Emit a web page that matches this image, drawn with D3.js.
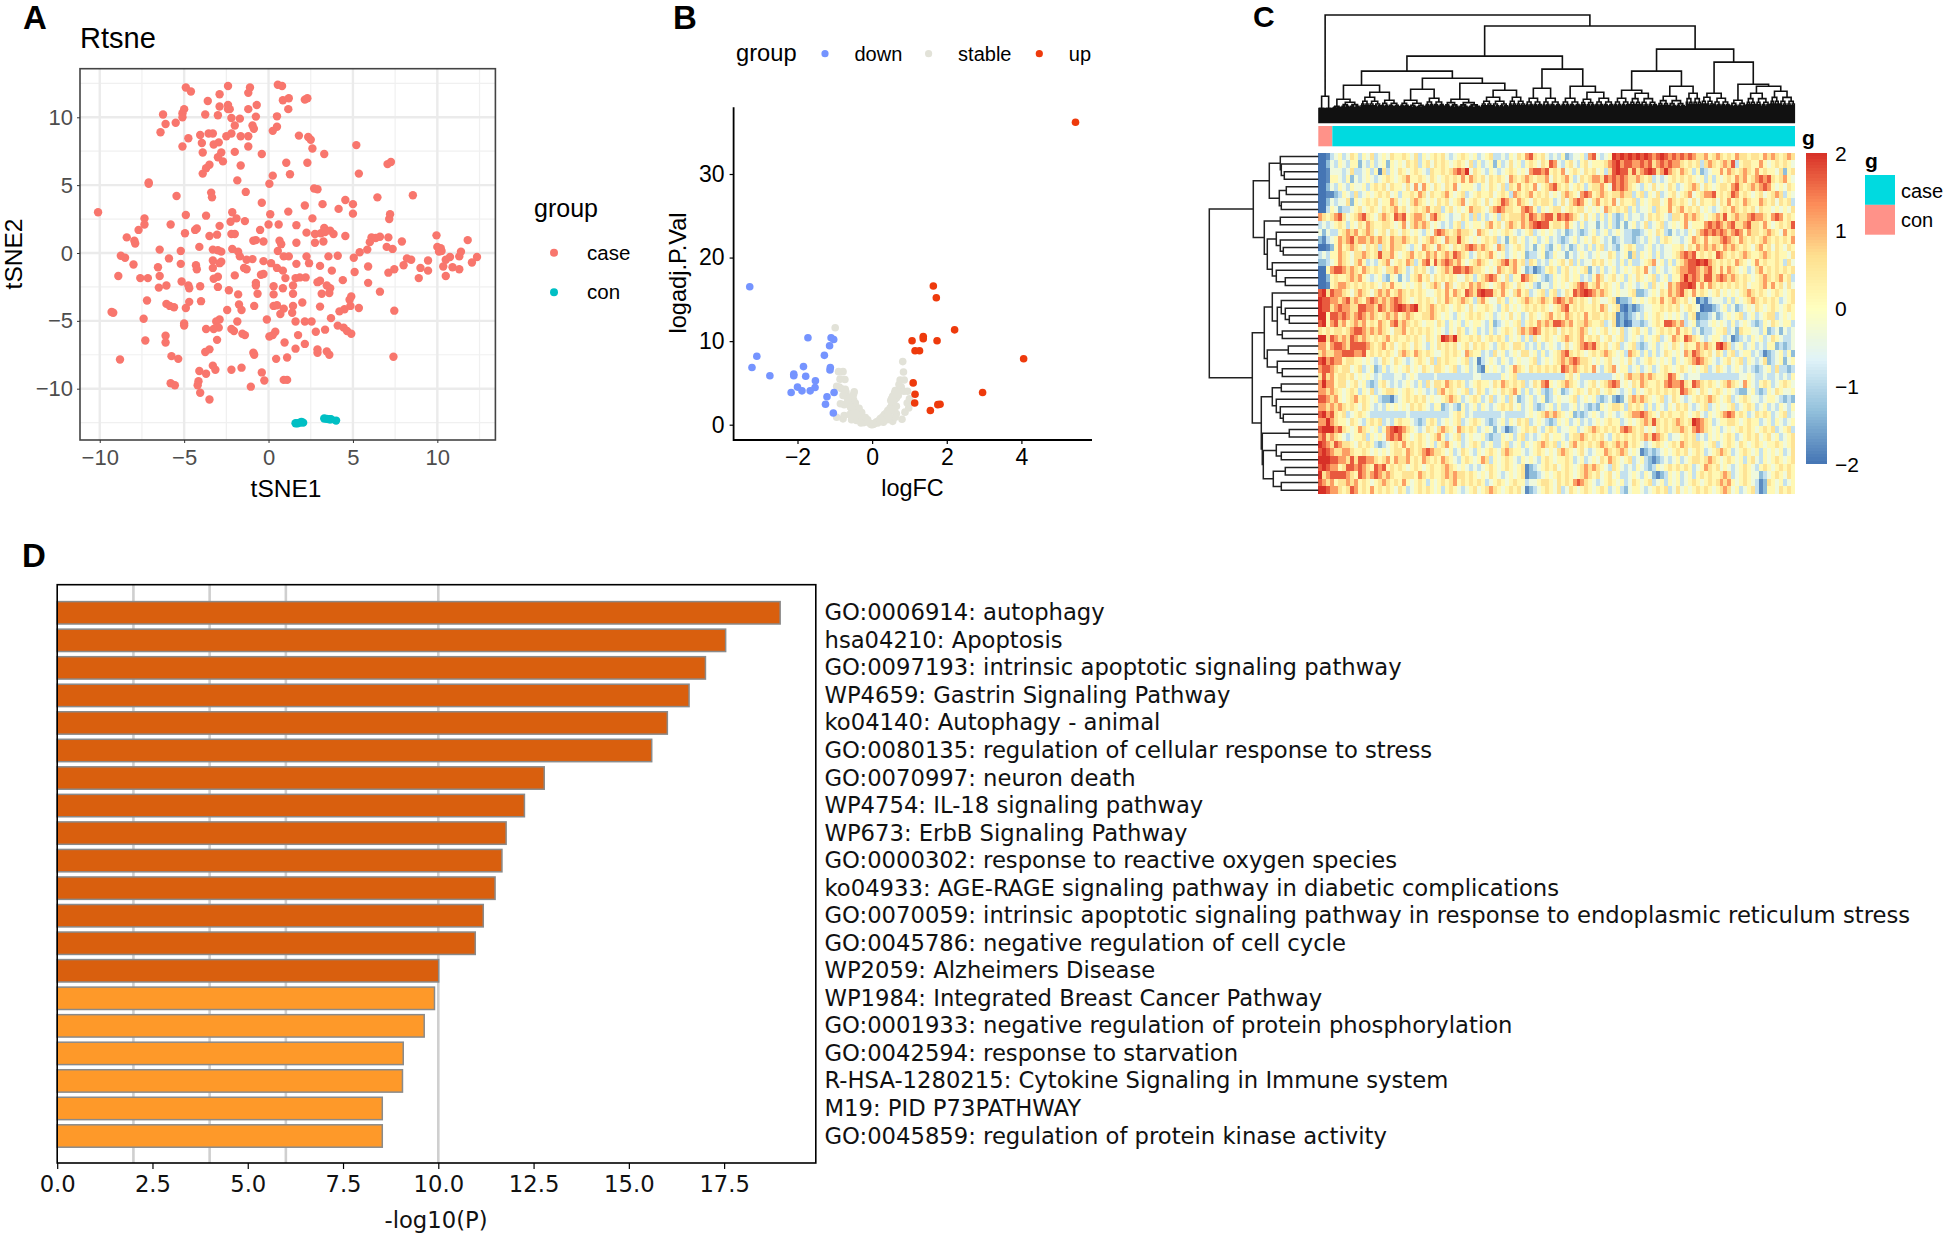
<!DOCTYPE html>
<html><head><meta charset="utf-8">
<style>html,body{margin:0;padding:0;background:#fff;overflow:hidden}svg{display:block}text{font-family:"Liberation Sans",Arial,sans-serif}</style>
<script src="https://cdnjs.cloudflare.com/ajax/libs/d3/7.8.5/d3.min.js"></script>
</head><body><svg id="c" width="1944" height="1234"></svg>
<script>
// ---------- Panel A: tSNE
const tsneCase=[[-4.9,12.2],[-4.6,11.9],[-2.4,12.3],[-1.1,12.2],[-1.2,11.8],[.55,12.4],[.8,12.3],[-2.9,11.7],[-3.6,11.2],[.85,11.25],[1.2,11.4],[2.15,11.3],[2.3,11.4],[-.7,10.9],[-2.9,10.8],[-2.4,10.9],[-1.2,10.6],[-2.4,10.6],[-2.3,10.6],[1.17,10.6],[-5,10.6],[-5.1,10.3],[-5.1,10],[-6.25,10.2],[-3.75,10.2],[-3,10.15],[-.75,10.05],[.5,10.07],[-2.2,9.95],[-1.7,9.9],[-5.5,9.6],[-6.1,9.5],[-2,9.4],[-.95,9.4],[-.87,9.15],[.5,9.3],[.25,9],[-6.4,8.9],[-4.05,8.7],[-3.55,8.8],[-3.3,8.8],[-2.2,8.8],[-2.5,8.6],[-1.65,8.6],[-1.2,8.6],[1.8,8.65],[2.35,8.55],[2.5,8.35],[-4.75,8.45],[-3.95,8.1],[-2.95,8.15],[-3.25,8],[-5.1,7.85],[-1.2,7.85],[5.2,7.95],[2.6,7.7],[-3.9,7.4],[-2,7.45],[-2.8,7.4],[-.4,7.3],[3.3,7.3],[-3,7.05],[-2.7,6.75],[1.05,6.65],[2.3,6.65],[7.25,6.7],[7.05,6.55],[-1.65,6.45],[-3.5,6.5],[-3.7,6.25],[-3.9,5.85],[5.35,5.85],[1.27,5.8],[.25,5.7],[-1.85,5.35],[-7.1,5.2],[-7.1,5.1],[.05,5.1],[2.7,4.75],[2.9,4.7],[-1.35,4.5],[-3.4,4.45],[-3.35,4.1],[-5.45,4.2],[8.55,4.25],[6.45,4.1],[4.55,3.9],[-.4,3.7],[3.2,3.6],[5,3.6],[2.15,3.5],[4.15,3.25],[1.17,3.05],[-2.15,3],[-10.1,3],[.1,2.85],[5,2.9],[7.2,2.85],[-4.9,2.8],[-3.7,2.75],[2.6,2.55],[-1.9,2.55],[7.15,2.5],[-7.35,2.55],[-7.35,2.1],[-2.25,2.3],[-1.4,2.35],[-5.8,2.1],[0,2.1],[.6,2.1],[1.65,2.05],[-2.9,2],[-7.7,1.7],[-4.25,1.8],[-4.35,1.7],[-.5,1.7],[3.3,1.85],[-4.95,1.45],[2.25,1.5],[3.65,1.65],[-2.2,1.4],[-2,1.4],[-3.5,1.25],[-3.05,1.35],[2.75,1.4],[3.1,1.45],[3.35,1.55],[3.85,1.4],[-8.4,1.15],[4.55,1.25],[6.1,1.15],[6.35,1.1],[6.6,1.2],[7.1,1.15],[9.95,1.3],[11.8,.95],[-7.95,.9],[-7.9,.7],[-.9,.9],[-.75,.95],[-.3,.85],[.65,.9],[.75,.65],[1.65,.75],[2.75,.75],[3.25,.85],[6,.8],[7.9,.85],[-4.1,.45],[-6.45,.25],[-5.2,.15],[-3.3,.25],[-3,.2],[-2.8,.1],[-2.15,.3],[-1.8,.1],[.55,.15],[5.85,.25],[5.4,.05],[7,.45],[7.35,.3],[10,.45],[10.2,.35],[10.1,.1],[10.25,.15],[11.4,.1],[-8.75,-.2],[-8.5,-.35],[-5.9,-.4],[-1.7,-.25],[.9,-.25],[1.2,-.25],[2.25,-.25],[3.55,-.25],[4.1,-.2],[5.05,-.35],[12.35,-.3],[10.75,-.3],[11.3,-.25],[8.2,-.4],[8.45,-.5],[9.45,-.55],[10.5,-.5],[12.05,-.7],[-3.3,-.55],[-2.8,-.65],[-.95,-.45],[-1.3,-.5],[-.3,-.6],[.15,-.75],[2.4,-.75],[-8,-.85],[-5.2,-.8],[-4.3,-.9],[-2.9,-.75],[1.65,-.8],[8,-.9],[3.05,-.95],[10.35,-1],[10.9,-1.05],[-6.55,-1.05],[-4.25,-1.2],[-3.3,-1.1],[-1.45,-1.1],[-1.3,-1.2],[.5,-1.1],[.85,-1.3],[9,-1.1],[5.9,-1],[11.3,-1.2],[9.45,-1.3],[7.45,-1.2],[7.1,-1.45],[5.1,-1.4],[3.75,-1.3],[-8.9,-1.7],[-7.6,-1.85],[-7.15,-1.85],[-6.45,-1.7],[-2,-1.65],[-.45,-1.6],[-.3,-1.55],[-3,-1.75],[-3.25,-1.9],[1,-1.85],[1.6,-1.85],[1.85,-1.8],[2.2,-1.8],[8.9,-1.85],[10.5,-1.7],[4.4,-2],[2.9,-2.15],[3.05,-2.05],[-5.15,-2.1],[5.9,-2.2],[-.75,-2.2],[-6.05,-2.4],[-6.5,-2.55],[-4.75,-2.4],[-4.7,-2.6],[-4.05,-2.45],[-3,-2.5],[-.75,-2.4],[.3,-2.45],[1.45,-2.4],[.85,-2.6],[3.45,-2.4],[3.65,-2.6],[-2.35,-2.75],[6.6,-2.85],[1.45,-3],[-1.8,-3.05],[-.65,-3],[.3,-3.05],[3.15,-3],[3.6,-2.95],[4.9,-3.2],[4.8,-3.45],[-7.2,-3.5],[-4,-3.55],[-4.7,-3.6],[2,-3.65],[-6.05,-3.75],[-5.85,-3.9],[-5.6,-4],[-4.9,-4.05],[-1.75,-3.8],[-.85,-3.9],[.3,-3.9],[.5,-3.85],[1.45,-3.9],[3.05,-3.95],[4.85,-3.9],[5.35,-4.05],[4.5,-4.15],[-1.6,-4.2],[-2.45,-4.2],[.9,-4.1],[4.2,-4.3],[7.45,-4.25],[1.4,-4.4],[-9.3,-4.35],[-9.2,-4.4],[.7,-4.5],[3.7,-4.8],[-7.4,-4.85],[-.1,-4.9],[-2.9,-4.9],[-3.1,-5.05],[-1.85,-5.05],[1.6,-5.05],[2.15,-5.05],[2.55,-5.05],[-5,-5.2],[-5,-5.35],[4.1,-5.35],[-2.95,-5.5],[4.45,-5.5],[-3.7,-5.6],[-3.25,-5.6],[3.35,-5.65],[-2.2,-5.6],[-2.05,-5.75],[2.8,-5.8],[4.65,-5.75],[4.9,-5.95],[-1.55,-5.95],[-1.4,-6.05],[.4,-5.8],[.25,-6.05],[.05,-6.15],[1.75,-6.05],[-6.1,-6.1],[-6.1,-6.6],[-7.3,-6.45],[-3.05,-6.4],[.95,-6.6],[2.15,-6.7],[1.6,-7.05],[2.9,-7.1],[2.9,-7.35],[3.45,-7.25],[3.6,-7.5],[-3.5,-7.1],[-3.75,-7.3],[-.9,-7.35],[-.85,-7.5],[-5.75,-7.6],[-5.35,-7.8],[-8.8,-7.85],[.45,-7.8],[1.1,-7.7],[7.4,-7.65],[-3.3,-8.3],[-3.15,-8.6],[-2.2,-8.6],[-1.6,-8.45],[-4.1,-8.7],[-3.7,-8.9],[-.4,-8.8],[-.25,-9.4],[.9,-9.35],[1.1,-9.35],[-5.8,-9.6],[-5.55,-9.75],[-4.15,-9.45],[-4.2,-9.75],[-1.05,-9.85],[-4.05,-10.3],[-3.5,-10.8]];
const tsneCon=[[1.6,-12.55],[1.72,-12.55],[1.85,-12.5],[2.05,-12.5],[1.95,-12.45],[3.3,-12.2],[3.45,-12.22],[3.6,-12.25],[3.7,-12.25],[4,-12.35]];
const tsneGroups=["case","con"];
const tsneTicks=[-10,-5,0,5,10];
const tsneMinor=[-12.5,-7.5,-2.5,2.5,7.5,12.5];

// ---------- Panel B: volcano
const volUp=[[5.45,36.2],[1.64,16.6],[1.72,15.2],[2.21,11.35],[1.37,10.55],[1.37,10.3],[1.07,10.05],[1.74,10.05],[1.15,8.85],[1.27,8.85],[4.06,7.9],[1.1,5],[2.96,3.85],[1.15,3.65],[1.14,2.6],[1.76,2.4],[1.82,2.45],[1.56,1.7]];
const volDown=[[-3.28,16.5],[-1.72,10.4],[-1.1,10.4],[-1.03,10.2],[-1.14,9.45],[-1.28,8.3],[-3.09,8.2],[-3.22,6.85],[-1.84,6.95],[-1.12,6.85],[-1.13,6.55],[-2.74,5.85],[-2.1,6.05],[-2.1,5.85],[-1.78,5.8],[-1.52,5.25],[-2,4.5],[-1.53,4.45],[-2.17,3.85],[-1.88,4.05],[-1.66,4.05],[-1.02,3.85],[-1.21,3.35],[-1.25,2.45],[-1.04,1.4]];
const volStable=[[-.99,11.6],[.82,7.55],[.84,6.3],[-.9,6.35],[-.78,6.35],[-.86,5.45],[-.73,5.4],[.75,5.35],[.86,5.35],[-.95,4.6],[-.88,4.5],[-.82,4.3],[-.72,4.25],[-.7,3.9],[-.48,3.95],[-.5,3.6],[-.78,3.5],[-.7,3.4],[-.6,3.3],[-.85,2.5],[-.75,2.4],[-.68,2.5],[-.6,2.7],[-.5,2.8],[-.52,2.3],[-.45,2.6],[-.4,2],[-.55,1.9],[-.45,1.7],[-.35,1.6],[-.3,1.2],[-.38,1.05],[-.25,.9],[-.2,.7],[-.15,.5],[-.1,.3],[-.05,.15],[0,0],[.03,.05],[.08,.2],[.12,.35],[.18,.5],[.22,.75],[.28,.95],[.33,1.2],[.38,1.4],[.42,1.7],[.48,2],[.52,2.3],[.56,2.6],[.6,3],[.55,3.4],[.6,3.8],[.65,3.2],[.68,4],[.72,4.2],[.62,4.1],[.78,4.5],[.85,4],[.95,4],[.72,4.8],[-.75,1.1],[-.78,.7],[-.95,.9],[-.55,.6],[-.42,.5],[-.33,.7],[-.28,.4],[.4,.6],[.3,.3],[.5,.8],[.55,.4],[.65,1.3],[.62,.9],[.8,.65],[.88,1.5],[.98,2],[1,3.1],[.94,2.6],[.45,1.1],[.35,.9],[.6,1.6],[.25,.55],[-.22,.25],[-.18,.85],[-.12,.6],[.15,.2],[.05,.08],[-.03,.03],[-.28,1.45],[-.35,1.95],[-.42,1.35],[-.48,1.05],[-.6,1.2],[-.5,3],[-.58,2.1],[-.65,2.9],[.5,2.9],[.55,1.9],[.65,2.2],[.7,3.5],[.52,3.1],[-.3,.2]];
const volGroups=["down","stable","up"];
const volXTicks=[-2,0,2,4];
const volYTicks=[0,10,20,30];

// ---------- Panel C: heatmap (each character is a colour level, 0 = -2 ... 9 = +2)
const heatRows=[
"001345346535463454655654635456564345654534563343546578656434352344537843459898989898789878787876675676565766566576765676",
"002435435524353452545465635646565456546353452534645356546587435643564555678978877878678787765656367656768356655754565654",
"001444346334535163546545654365565678794654354345654547887856574565465645368988686789867976576535234557576567657565546256",
"001554352434543456545675565465456565757656465654765676566746567534656776878787667656343456565654535354565767567878656754",
"002435435445356564655464747546546574555435465463657565745678656456535667548787654354645465345676465456657865676787545465",
"001123543634545656453556576465567545634565564565376567565645467654787567656676635635463456456745677856568756545645676354",
"002434462545656455764546765454656456745654645687657654656653464678754675657465563545664576565464655646575657655765646563",
"003542334564565465675645656756635645457665467876655787535456645656645454765656353445365575675656454345657656564655454546",
"765678645678654676587856776478654344653635345365666768767886878765464535353235344346565436657676545676856766787765787565",
"343456535465765566545746767645434356354554675646765767898856657543534424353242453463456345457455578787678667866575456568",
"424335676756764564654654543547876567665476545456543456345454342343234534534543322345465324343546787878767875766567654756",
"213457678677676765766765645676547668654545656342564534534534323453454654342343323435435654434576575667876576565676565657",
"001257567654656365766543547654765465678767654763456534245324534235435356343245653345343445564657676765767656546756465465",
"343557654667656866754567565767567687653465675453454523345235442434543454465345263545353445678785656587656567655676565546",
"223457654675343567456576357858678767545676545678675636534354564635344656454353533456745353567889897656565765457565565364",
"005788767657656546676534656434567688787665454765675423123565356454562435345345456574354345677887678657576545346756565656",
"002565567675434532542435675646565654465356787546355876543235456455343576456453546545634535579787688678767656545676567563",
"001567765656565465755454564567647645657676545676546545324435454567875675654534543453645476788985757656565656455675756464",
"896877654676546767567656565445657576587689886575467563456356346587898767654544562234546576786575654564545456765654565456",
"988776786765787676787654565654657656765367544653545676567657876765654654456122354545657567656450213444353545676565653456",
"988678776688776876789878965676565456546455654356454565656545678565655657645610212344556565645654011234534234546545654565",
"995887876787676567675676556676545435456565453454645346545675657656575665656121234354565454543561223423454563453456634545",
"895786756767565765786765654554653545354554352345456356576768876756676556346120133234565887673452334545435345432354654553",
"656566567887676765466756565654543546534534353456546767875656465656764545645463456453456565756534233455634265544352342434",
"996876768767656567565565654654698796556564565653545353645654567656756564564563454354563457658765434554341234354534654334",
"775788768888765675645654654354656564564656543565466534353454346456787865645634563234534546546557676589763453453435523234",
"676677888778565656546765765654456565476553436453454664535345678656545656765453765353534654547687656465356345534312345352",
"897877566554543465465434565463656554563413454354345445634545676787665454564454643456545453545678765434564563543462345245",
"788765664563452353454564546546654563453421545434576546565656587676565743567455345345345654565454563465434543432345363323",
"686756656454543433344345433334333333333443333354563333333333335645333333334546766767655687543444333333333344543343343435",
"797756645645323564343454353646657656534565546576565634657854567654345645678745465765565787786587656545676547543565345654",
"776765456535463456654565454343675654563465345465675353453235423456546564565434535456565656587654654565454322453235465445",
"887675456756545322134565656454456765345653463453642345345234544563454532342124676765456346543456567654563456544345543232",
"776767656546543435454546565435523432534535434565645345323453533453432325456653656535354354656434563454456345653453435435",
"897865634565433333333343333333333456534333333343333345456767654523234543454345677876546565565456435456787565346565345634",
"779765546543565634356554323565345456345654323453546563454323545345343454565534545676865656765698765345566545655345354345",
"899978654576545357898765434654676547656534542431234565643565344553456765656578765645465656676578765453454565654565634563",
"786765434556354547878654565456753456345445323354535634345645543566765656435656565676876534456563435454565345656456453456",
"987687665465653234565756565453567545345653453356345354567656354675656567656767565434565456576566545634565465456545565456",
"898766776556545454566576567876654534654354565467655434565454676545643455765676454123234545656456534567653456545354545346",
"999887768688776567576675657656576543565457635456543545435654556534534546576545634532123434534566567654565453564354565456",
"898775688787658785656545654565567654543434565456545612345656456545676765436543435432354565656534576564543456543565456565",
"967888876587678767655666576565567676656545465434545612234545656545676564564533454354212354534535656556763456544234565465",
"876756676756545676565754565354565675656565345654565534456654656578765434565453465456345354534565456567675456543126545345",
"998776568756575656546534565654535654345645676545656412345654634654565456534532455434565634645456565456764534563125546565"
];
const heatLevels=[-2,-1.8,-1.35,-.9,-.35,.15,.6,1.2,1.7,2];
const heatPalette=["#4575B4","#91BFDB","#E0F3F8","#FFFFBF","#FEE090","#FC8D59","#D73027"];
const annoLevels=["case","con"];
const colorbarTicks=[2,1,0,-1,-2];

// Column dendrogram: [mergeHeight, left, right]; a terminal [mergeHeight, leafCount] is a dense sub-cluster.
const colTree=[108,[27,[15,5],[15,5]],[97,
  [67,
    [52,[38,[24,[17,6],[21,14]],[31,[26,15],[23,13]]],
        [45,[34,[23,18],[25,14]],[40,[24,26],[33,[26,20],[26,12]]]]],
    [54,[35,[25,12],[25,13]],[37,[25,14],[31,[24,10],[25,14]]]]],
  [74,
    [52,[33,[25,11],[30,20]],[37,[27,20],[30,11]]],
    [61,[30,[26,9],[25,12]],[39,[23,11],[37,[30,17],[32,18]]]]]]];
// Row dendrogram: [mergeHeight, left, right]; plain numbers are row indices.
const rowTree=[109,
 [65,
  [49,[38,0,[37,1,[34,2,3]]],[39,[32,4,5],[37,6,7]]],
  [54,[38,8,9],[51,[42,10,[38,11,[35,12,13]]],[46,14,[42,15,[33,16,17]]]]]],
 [66,
  [54,[46,18,[41,[37,19,[33,20,[29,21,22]]],[36,23,24]]],[51,[30,25,26],[41,27,[36,28,29]]]],
  [57,[46,[37,30,31],[42,32,[38,33,[35,34,35]]]],
      [56,[29,36,37],[55,[42,38,[37,39,40]],[45,[33,41,42],[37,43,44]]]]]]];

// ---------- Panel D: enrichment bars
const termLabels=["GO:0006914: autophagy","hsa04210: Apoptosis","GO:0097193: intrinsic apoptotic signaling pathway","WP4659: Gastrin Signaling Pathway","ko04140: Autophagy - animal","GO:0080135: regulation of cellular response to stress","GO:0070997: neuron death","WP4754: IL-18 signaling pathway","WP673: ErbB Signaling Pathway","GO:0000302: response to reactive oxygen species","ko04933: AGE-RAGE signaling pathway in diabetic complications","GO:0070059: intrinsic apoptotic signaling pathway in response to endoplasmic reticulum stress","GO:0045786: negative regulation of cell cycle","WP2059: Alzheimers Disease","WP1984: Integrated Breast Cancer Pathway","GO:0001933: negative regulation of protein phosphorylation","GO:0042594: response to starvation","R-HSA-1280215: Cytokine Signaling in Immune system","M19: PID P73PATHWAY","GO:0045859: regulation of protein kinase activity"];
const termValues=[18.97,17.54,17.01,16.58,16.01,15.6,12.78,12.26,11.78,11.67,11.49,11.18,10.97,10.01,9.9,9.63,9.08,9.06,8.53,8.53];
const termTier=[1,1,1,1,1,1,1,1,1,1,1,1,1,1,0,0,0,0,0,0];
const refLines=[2,4,6,10];
const barTicks=[0,2.5,5,7.5,10,12.5,15,17.5];

const svg=d3.select("#c");
const letter=(t,x,y,s)=>svg.append("text").attr("x",x).attr("y",y).attr("font-size",s).attr("font-weight",700).attr("fill","#000").text(t);
letter("A",23,29,33);letter("B",673,29,33);letter("C",1253,27,30);letter("D",22,567,33);

// ===== A =====
(function(){
 const L=80,R=495.4,T=68.7,B=440;
 const x=d3.scaleLinear([-11.17,13.44],[L,R]), y=d3.scaleLinear([-13.78,13.58],[B,T]);
 const g=svg.append("g");
 svg.append("clipPath").attr("id","pa").append("rect").attr("x",L).attr("y",T).attr("width",R-L).attr("height",B-T);
 const grid=g.append("g").attr("clip-path","url(#pa)");
 grid.selectAll(".vm").data(tsneMinor).join("line").attr("class","vm").attr("x1",d=>x(d)).attr("x2",d=>x(d)).attr("y1",T).attr("y2",B).attr("stroke","#f0f0f0").attr("stroke-width",1.2);
 grid.selectAll(".hm").data(tsneMinor).join("line").attr("class","hm").attr("y1",d=>y(d)).attr("y2",d=>y(d)).attr("x1",L).attr("x2",R).attr("stroke","#f0f0f0").attr("stroke-width",1.2);
 grid.selectAll(".vM").data(tsneTicks).join("line").attr("class","vM").attr("x1",d=>x(d)).attr("x2",d=>x(d)).attr("y1",T).attr("y2",B).attr("stroke","#ebebeb").attr("stroke-width",2.4);
 grid.selectAll(".hM").data(tsneTicks).join("line").attr("class","hM").attr("y1",d=>y(d)).attr("y2",d=>y(d)).attr("x1",L).attr("x2",R).attr("stroke","#ebebeb").attr("stroke-width",2.4);
 const dot=(data,c)=>g.append("g").selectAll("ellipse").data(data).join("ellipse").attr("cx",d=>x(d[0])).attr("cy",d=>y(d[1])).attr("rx",4.2).attr("ry",4.2).attr("fill",c);
 dot(tsneCase,"#F8766D");dot(tsneCon,"#00BFC4");
 g.append("rect").attr("x",L).attr("y",T).attr("width",R-L).attr("height",B-T).attr("fill","none").attr("stroke","#444").attr("stroke-width",1.6);
 const ax=g.append("g").attr("transform",`translate(0,${B})`).call(d3.axisBottom(x).tickValues(tsneTicks).tickSize(3).tickPadding(6));
 const ay=g.append("g").attr("transform",`translate(${L},0)`).call(d3.axisLeft(y).tickValues(tsneTicks).tickSize(3).tickPadding(4));
 [ax,ay].forEach(a=>{a.select(".domain").remove();a.selectAll("line").attr("stroke","#333");a.selectAll("text").attr("font-size",22).attr("fill","#4d4d4d").style("font-family",'"Liberation Sans"');});
 g.append("text").attr("x",80).attr("y",48).attr("font-size",29).text("Rtsne");
 g.append("text").attr("x",286).attr("y",497).attr("text-anchor","middle").attr("font-size",24.5).text("tSNE1");
 g.append("text").attr("transform","translate(22,254) rotate(-90)").attr("text-anchor","middle").attr("font-size",24.5).text("tSNE2");
 g.append("text").attr("x",534).attr("y",217).attr("font-size",25).text("group");
 const ly=d3.scalePoint(tsneGroups,[252.7,292.3]), lc=d3.scaleOrdinal(tsneGroups,["#F8766D","#00BFC4"]);
 g.selectAll(".lg").data(tsneGroups).join("circle").attr("class","lg").attr("cx",554).attr("cy",d=>ly(d)).attr("r",4).attr("fill",d=>lc(d));
 g.selectAll(".lt").data(tsneGroups).join("text").attr("class","lt").attr("x",587).attr("y",d=>ly(d)+7).attr("font-size",20.5).text(d=>d);
})();

// ===== B =====
(function(){
 const L=733.6,R=1092,T=107.3,B=440;
 const x=d3.scaleLinear([-2,4],[797.5,1021.4]), y=d3.scaleLinear([0,30],[424.7,174]);
 const g=svg.append("g");
 const cols={down:"#7594FF",stable:"#E2E2D8",up:"#EE3A0C"};
 const dot=(data,c)=>g.append("g").selectAll("circle").data(data).join("circle").attr("cx",d=>x(d[0])).attr("cy",d=>y(d[1])).attr("r",3.8).attr("fill",c);
 dot(volStable,cols.stable);dot(volDown,cols.down);dot(volUp,cols.up);
 const ax=g.append("g").attr("transform",`translate(0,${B})`).call(d3.axisBottom(x).tickValues(volXTicks).tickFormat(d3.format("d")).tickSize(4).tickPadding(5).tickSizeOuter(0));
 const ay=g.append("g").attr("transform",`translate(${L},0)`).call(d3.axisLeft(y).tickValues(volYTicks).tickFormat(d3.format("d")).tickSize(4).tickPadding(5));
 [ax,ay].forEach(a=>{a.select(".domain").remove();a.selectAll("line").attr("stroke","#000").attr("stroke-width",1.2);a.selectAll("text").attr("font-size",23).attr("fill","#000").style("font-family",'"Liberation Sans"');});
 g.append("line").attr("x1",L).attr("x2",L).attr("y1",T).attr("y2",B+1).attr("stroke","#000").attr("stroke-width",1.8);
 g.append("line").attr("x1",L).attr("x2",R).attr("y1",B).attr("y2",B).attr("stroke","#000").attr("stroke-width",1.8);
 g.append("text").attr("x",912.5).attr("y",496).attr("text-anchor","middle").attr("font-size",23.4).text("logFC");
 g.append("text").attr("transform","translate(686,273) rotate(-90)").attr("text-anchor","middle").attr("font-size",23.6).text("logadj.P.Val");
 g.append("text").attr("x",736).attr("y",61).attr("font-size",23.7).text("group");
 const lx=d3.scaleOrdinal(volGroups,[825,928.6,1039.3]);
 g.selectAll(".ld").data(volGroups).join("circle").attr("class","ld").attr("cx",d=>lx(d)).attr("cy",53.7).attr("r",3.6).attr("fill",d=>cols[d]);
 g.selectAll(".lt").data(volGroups).join("text").attr("class","lt").attr("x",d=>lx(d)+29.5).attr("y",61).attr("font-size",20).text(d=>d);
})();

// ===== C =====
(function(){
 const L=1318.3,R=1795,T=152.7,B=494;
 const g=svg.append("g");
 const color=d3.scaleLinear(d3.range(7).map(i=>-2+i*4/6),heatPalette).interpolate(d3.interpolateRgb);
 const rowY=d3.scaleBand(d3.range(heatRows.length),[T,B]);
 const rows=g.append("g").attr("shape-rendering","crispEdges").selectAll("g").data(heatRows).join("g");
 rows.each(function(s,i){
   const cx=d3.scaleLinear([0,s.length],[L,R]);
   d3.select(this).selectAll("rect").data(s.split("")).join("rect")
     .attr("x",(d,j)=>cx(j)).attr("y",rowY(i)).attr("width",(R-L)/s.length+.4).attr("height",rowY.bandwidth()+.3)
     .attr("fill",d=>color(heatLevels[+d]));
 });
 // annotation
 const annoX=d3.scaleLinear([0,340],[L,R]);
 const annoSpans=[{k:"con",a:0,b:10},{k:"case",a:10,b:340}];
 const annoC={case:"#00DAE0",con:"#FF9289"};
 g.selectAll(".an").data(annoSpans).join("rect").attr("class","an").attr("x",d=>annoX(d.a)).attr("width",d=>annoX(d.b)-annoX(d.a)).attr("y",126).attr("height",20.3).attr("fill",d=>annoC[d.k]);

 // top dendrogram
 function expand(n){
   if(n.length===3) return {h:n[0],children:[expand(n[1]),expand(n[2])]};
   return comb(n[0],n[1]);
 }
 function comb(h,c){
   if(c<=1) return {h:0};
   const a=Math.ceil(c*.38);
   const nh=14+(h-14)*.66;
   return {h:h,children:[comb(nh,a),comb(nh,c-a)]};
 }
 const root=d3.hierarchy(expand(colTree));
 const leaves=root.leaves();
 const lx=d3.scaleBand(d3.range(leaves.length),[L,R]);
 leaves.forEach((l,i)=>l.px=lx(i)+lx.bandwidth()/2);
 root.eachAfter(n=>{if(n.children)n.px=(n.children[0].px+n.children[1].px)/2;});
 const hTop=d3.scaleLinear([0,108],[123.3,15]);
 const dp=d3.path();
 root.each(n=>{ if(n.children){const[a,b]=n.children;
   dp.moveTo(a.px,hTop(a.data.h));dp.lineTo(a.px,hTop(n.data.h));dp.lineTo(b.px,hTop(n.data.h));dp.lineTo(b.px,hTop(b.data.h));}});
 g.append("path").attr("d",dp.toString()).attr("fill","none").attr("stroke","#111").attr("stroke-width",1.6);

 // left dendrogram
 function exR(n){return Array.isArray(n)?{h:n[0],children:[exR(n[1]),exR(n[2])]}:{h:0,row:n};}
 const rr=d3.hierarchy(exR(rowTree));
 rr.leaves().forEach(l=>l.py=rowY(l.data.row)+rowY.bandwidth()/2);
 rr.eachAfter(n=>{if(n.children)n.py=(n.children[0].py+n.children[1].py)/2;});
 const hLeft=d3.scaleLinear([0,109],[L,1209.3]);
 const lp=d3.path();
 rr.each(n=>{ if(n.children){const[a,b]=n.children;
   lp.moveTo(hLeft(a.data.h),a.py);lp.lineTo(hLeft(n.data.h),a.py);lp.lineTo(hLeft(n.data.h),b.py);lp.lineTo(hLeft(b.data.h),b.py);}});
 g.append("path").attr("d",lp.toString()).attr("fill","none").attr("stroke","#222").attr("stroke-width",1.5);

 // colour bar
 const cby=d3.scaleLinear([2,-2],[152.7,463.7]);
 const steps=d3.range(100).map(i=>2-i*4/100);
 g.append("g").attr("shape-rendering","crispEdges").selectAll("rect").data(steps).join("rect").attr("x",1805.7).attr("width",21).attr("y",d=>cby(d)).attr("height",3.6).attr("fill",d=>color(d-.02));
 g.selectAll(".cbt").data(colorbarTicks).join("text").attr("class","cbt").attr("x",1835).attr("y",d=>cby(d)+8).attr("font-size",21).text(d=>d3.format("d")(d));
 g.append("text").attr("x",1802).attr("y",145).attr("font-size",21).attr("font-weight",700).text("g");
 g.append("text").attr("x",1865).attr("y",168).attr("font-size",21).attr("font-weight",700).text("g");
 const box=d3.scaleBand(annoLevels,[175,234.7]);
 g.selectAll(".bx").data(annoLevels).join("rect").attr("class","bx").attr("x",1865).attr("width",30).attr("y",d=>box(d)).attr("height",box.bandwidth()).attr("fill",d=>annoC[d]);
 g.selectAll(".bt").data(annoLevels).join("text").attr("class","bt").attr("x",1901).attr("y",d=>box(d)+22.5).attr("font-size",20).text(d=>d);
})();

// ===== D =====
(function(){
 const L=57.2,R=815.8,T=584.7,B=1163;
 const x=d3.scaleLinear([0,2.5*8],[L,L+38.11*20]);
 const yc=d3.scaleLinear([0,termLabels.length-1],[612.8,1136]);
 const g=svg.append("g");
 g.selectAll(".rl").data(refLines).join("line").attr("class","rl").attr("x1",d=>x(d)).attr("x2",d=>x(d)).attr("y1",T).attr("y2",B).attr("stroke","#cfcfcf").attr("stroke-width",2.6);
 const fillC=d3.scaleOrdinal([1,0],["#D95F0E","#FE9929"]);
 g.selectAll(".b").data(termValues).join("rect").attr("class","b").attr("x",L).attr("y",(d,i)=>yc(i)-11.2).attr("width",d=>x(d)-L).attr("height",22.4).attr("fill",(d,i)=>fillC(termTier[i])).attr("stroke","#8a8a8a").attr("stroke-width",1.5);
 g.selectAll(".t").data(termLabels).join("text").attr("class","t").attr("x",824.5).attr("y",(d,i)=>yc(i)+7.5).attr("font-size",22.7).style("font-family",'"DejaVu Sans"').attr("fill","#111").text(d=>d);
 g.append("rect").attr("x",L).attr("y",T).attr("width",R-L).attr("height",B-T).attr("fill","none").attr("stroke","#000").attr("stroke-width",1.6);
 const ax=g.append("g").attr("transform",`translate(0,${B})`).call(d3.axisBottom(x).tickValues(barTicks).tickFormat(d3.format(".1f")).tickSize(6).tickPadding(7));
 ax.select(".domain").remove();
 ax.selectAll("line").attr("stroke","#000").attr("stroke-width",1.2);
 ax.selectAll("text").attr("font-size",22.7).attr("fill","#111").style("font-family",'"DejaVu Sans"');
 g.append("text").attr("x",436).attr("y",1228).attr("text-anchor","middle").attr("font-size",22.7).style("font-family",'"DejaVu Sans"').attr("fill","#111").text("-log10(P)");
})();
</script></body></html>
